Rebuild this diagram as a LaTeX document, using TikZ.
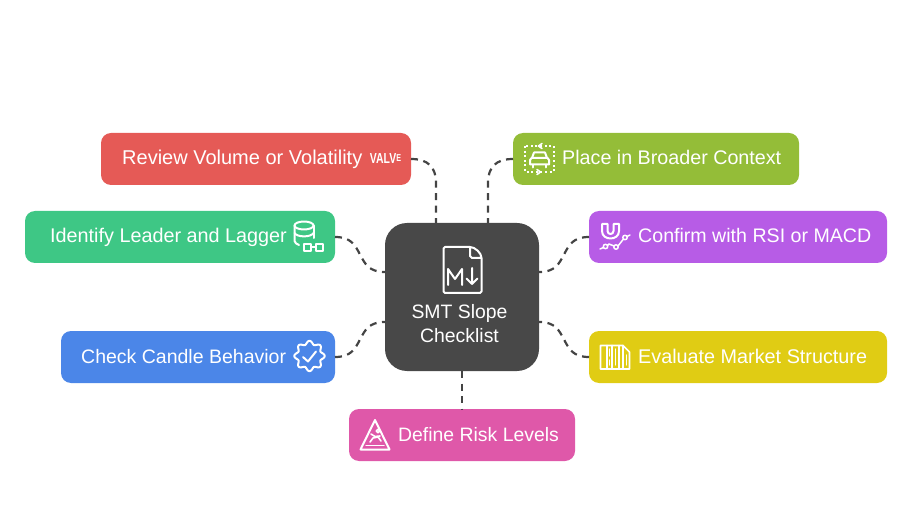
\documentclass[tikz,border=0pt]{standalone}
\usepackage{fontspec}
\setmainfont{Liberation Sans}
\definecolor{hubgray}{HTML}{484848}
\definecolor{linkgray}{HTML}{444444}
\definecolor{reviewred}{HTML}{E55A56}
\definecolor{contextgreen}{HTML}{94BD38}
\definecolor{leadergreen}{HTML}{3EC785}
\definecolor{confirmpurple}{HTML}{B75CE6}
\definecolor{candleblue}{HTML}{4B86E8}
\definecolor{structyellow}{HTML}{E0CC14}
\definecolor{riskpink}{HTML}{DF58A9}
\tikzset{
    itembox/.style={rounded corners=10pt, minimum height=52pt, inner sep=0pt, outer sep=0pt},
    hubbox/.style={fill=hubgray, rounded corners=22pt, minimum width=154pt, minimum height=148pt, inner sep=0pt, outer sep=0pt},
    itemtext/.style={text=white, anchor=base west, inner sep=0pt, font=\fontsize{#1}{22}\selectfont},
    hubtext/.style={text=white, anchor=base, inner sep=0pt, font=\fontsize{19.4}{22}\selectfont},
    linkline/.style={draw=linkgray, line width=2.2pt, dash pattern=on 7pt off 5.5pt},
    iconline/.style={draw=white, line width=2pt, line join=round, line cap=round}
}
\begin{document}
\begin{tikzpicture}[x=1pt, y=-1pt]
    \useasboundingbox (0, 0) rectangle (912, 510);
    \node[hubbox] (hub) at (462, 297) {};
    \node[itembox, fill=reviewred, minimum width=310pt] (review) at (256, 159) {};
    \node[itembox, fill=contextgreen, minimum width=286pt] (context) at (656, 159) {};
    \node[itembox, fill=leadergreen, minimum width=310pt] (leader) at (180, 237) {};
    \node[itembox, fill=confirmpurple, minimum width=298pt] (confirm) at (738, 237) {};
    \node[itembox, fill=candleblue, minimum width=274pt] (candle) at (198, 357) {};
    \node[itembox, fill=structyellow, minimum width=298pt] (struct) at (738, 357) {};
    \node[itembox, fill=riskpink, minimum width=226pt] (risk) at (462, 435) {};

    \node[itemtext=20] (reviewtext) at (122, 165) {Review Volume or Volatility};
    \node[itemtext=19.7] (contexttext) at (562, 165) {Place in Broader Context};
    \node[itemtext=19.8] (leadertext) at (50, 243) {Identify Leader and Lagger};
    \node[itemtext=19.6] (confirmtext) at (638, 243) {Confirm with RSI or MACD};
    \node[itemtext=19.5] (candletext) at (81, 363) {Check Candle Behavior};
    \node[itemtext=19.8] (structtext) at (638, 363) {Evaluate Market Structure};
    \node[itemtext=19.4] (risktext) at (398, 441) {Define Risk Levels};
    \node[hubtext] (hubtitle) at (459.5, 318) {SMT Slope};
    \node[hubtext] (hubsub) at (459.5, 342) {Checklist};

    \coordinate (hubna) at (436, 223);
    \coordinate (hubnb) at (488, 223);
    \coordinate (hubwa) at (385, 272);
    \coordinate (hubwb) at (385, 322);
    \coordinate (hubea) at (539, 272);
    \coordinate (hubeb) at (539, 322);

    \draw[linkline] (review.east) .. controls (428, 159) and (436, 167) .. (436, 183) -- (hubna);
    \draw[linkline] (context.west) .. controls (496, 159) and (488, 167) .. (488, 183) -- (hubnb);
    \draw[linkline] (leader.east) .. controls (351, 237) and (355, 245) .. (360, 254.5) .. controls (365, 264) and (369, 272) .. (hubwa);
    \draw[linkline] (candle.east) .. controls (351, 357) and (355, 349) .. (360, 339.5) .. controls (365, 330) and (369, 322) .. (hubwb);
    \draw[linkline] (confirm.west) .. controls (573, 237) and (569, 245) .. (564, 254.5) .. controls (559, 264) and (555, 272) .. (hubea);
    \draw[linkline] (struct.west) .. controls (573, 357) and (569, 349) .. (564, 339.5) .. controls (559, 330) and (555, 322) .. (hubeb);
    \draw[linkline] (hub.south) -- (risk.north);

    % file icon
    \draw[iconline] (470, 247) -- (445, 247) -- (443.5, 248.5) -- (443.5, 291.5) -- (445, 293) -- (480, 293) -- (481.5, 291.5) -- (481.5, 258) .. controls (481.5, 253) and (475, 247) .. (470, 247) -- (470, 256) -- (472, 258) -- (481.5, 258);
    \draw[iconline] (448, 285) -- (448, 269) -- (455, 279) -- (462, 269) -- (462, 285);
    \draw[iconline] (472, 268) -- (472, 284) (466.5, 278.5) -- (472, 284) -- (477.5, 278.5);

    % valve
    \node[text=white, inner sep=0pt, font=\fontsize{14.5}{16}\bfseries\selectfont] (valve) at (385.5, 159) {\scalebox{0.72}[1]{VALV\raisebox{2.6pt}{\fontsize{10}{10}\selectfont E}}};

    % car icon
    \draw[iconline, line cap=butt, dash pattern=on 2pt off 2.6pt] (525, 146) rectangle (553.5, 172);
    \draw[iconline, line width=1.6pt] (542, 143.5) -- (538.5, 146) -- (542, 148.5);
    \draw[iconline, line width=1.6pt] (537, 169.5) -- (540.5, 172) -- (537, 174.5);
    \draw[iconline] (532, 158) -- (534, 152.5) -- (545, 152.5) -- (547, 158);
    \draw[iconline] (531.5, 158) -- (547.5, 158) -- (549, 160) -- (549, 164.5) -- (530, 164.5) -- (530, 160) -- cycle;
    \draw[iconline] (533, 165) -- (533, 167.5) (546, 165) -- (546, 167.5);

    % magnet icon
    \draw[iconline] (602, 224) -- (602, 231) .. controls (602, 241) and (619, 241) .. (619, 231) -- (619, 224) -- (613.5, 224) -- (613.5, 231) .. controls (613.5, 235) and (607.5, 235) .. (607.5, 231) -- (607.5, 224) -- cycle;
    \draw[iconline, line width=1.5pt] (600, 249) -- (603.5, 247.5) (607.5, 245.5) -- (609, 244) -- (614, 246) (618, 246) -- (623.5, 239) (627, 236.5) -- (630, 235);
    \draw[iconline, line width=1.5pt] (605.5, 246.5) circle (2.2pt) (616, 247) circle (2.2pt) (625, 237.5) circle (2.2pt);

    % database icon
    \draw[iconline] (304, 225.5) ellipse (9.5pt and 4pt);
    \draw[iconline] (294.5, 225.5) -- (294.5, 241) .. controls (294.5, 243) and (297, 244) .. (299, 245);
    \draw[iconline] (313.5, 225.5) -- (313.5, 238);
    \draw[iconline] (294.5, 233) .. controls (297, 237.5) and (311, 237.5) .. (313.5, 233);
    \draw[iconline] (303.5, 244) rectangle (311, 251.5) (315.5, 244) rectangle (323, 251.5) (311, 247.5) -- (315.5, 247.5);

    % badge icon
    \draw[iconline] plot[domain=0:360, samples=97, smooth] ({309.5 + (13.5 + 1.7 * cos(8 * \x)) * cos(\x)}, {356 + (13.5 + 1.7 * cos(8 * \x)) * sin(\x)});
    \draw[iconline] (303, 357) -- (308, 361.5) -- (316, 351.5);

    % columns icon
    \draw[iconline, line width=1.6pt] (600.5, 345.5) -- (623, 345.5) -- (629.5, 352) -- (629.5, 369) -- (600.5, 369) -- cycle;
    \draw[iconline, line width=1.6pt] (607, 345.5) -- (607, 369) (612, 345.5) -- (612, 369) (619, 345.5) -- (619, 369) (623, 345.5) -- (623, 369);
    \draw[iconline, line width=1.3pt] (609.5, 349) -- (609.5, 356) (609.5, 360) -- (609.5, 365) (615.5, 349) -- (615.5, 365) (626.5, 355) -- (626.5, 365);

    % slip icon
    \draw[iconline] (375, 420) -- (360.5, 449.5) -- (389.5, 449.5) -- cycle;
    \draw[iconline, line width=1.5pt] (366, 445.5) -- (384, 445.5);
    \draw[iconline, line width=1.5pt] (378, 431) circle (1.8pt);
    \draw[iconline, line width=1.6pt] (370, 442) -- (373, 438) -- (378, 437) -- (381, 441) (371, 434) -- (375, 436.5) -- (380, 436);
\end{tikzpicture}
\end{document}
